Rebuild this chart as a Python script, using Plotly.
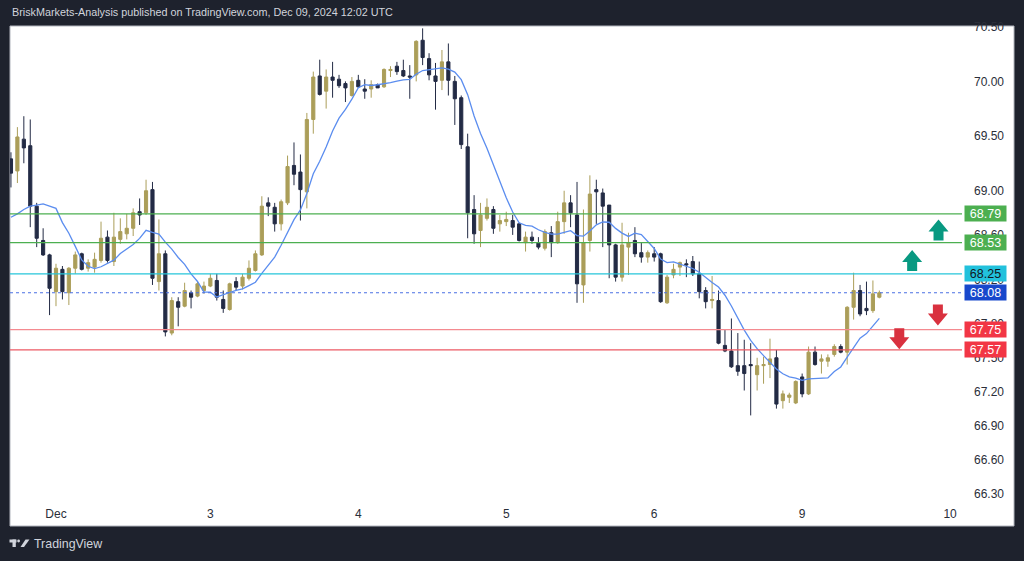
import numpy as np
import pandas as pd
import plotly.graph_objects as go

# ---------------- data (hourly WTI candles) ----------------
opens = [69.29, 69.18, 69.47, 69.41, 68.86, 68.55, 68.42, 68.09, 68.29, 68.08,
         68.30, 68.43, 68.30, 68.31, 68.37, 68.58, 68.36, 68.56, 68.61, 68.66,
         68.81, 68.80, 69.01, 68.18, 68.43, 67.72, 68.00, 67.96, 68.08, 68.05,
         68.10, 68.14, 68.19, 68.02, 67.93, 68.18, 68.14, 68.21, 68.28, 68.42,
         68.89, 68.85, 68.70, 68.89, 69.23, 69.17, 68.99, 69.65, 70.05, 69.91,
         70.04, 70.02, 69.98, 69.87, 70.01, 69.93, 69.93, 69.97, 69.95, 70.10,
         70.14, 70.10, 70.05, 70.06, 70.38, 70.21, 70.05, 70.01, 70.18, 70.00,
         69.85, 69.40, 68.83, 68.64, 68.75, 68.83, 68.70, 68.72, 68.73, 68.70,
         68.53, 68.58, 68.53, 68.48, 68.62, 68.53, 68.72, 68.89, 68.78, 68.15,
         68.55, 69.01, 68.98, 68.87, 68.51, 68.22, 68.49, 68.55, 68.44, 68.40,
         68.43, 68.43, 67.99, 68.24, 68.31, 68.34, 68.36, 68.25, 68.10, 68.01,
         68.01, 67.61, 67.56, 67.43, 67.43, 67.44, 67.35, 67.43, 67.44, 67.50,
         67.12, 67.15, 67.10, 67.33, 67.18, 67.55, 67.47, 67.47, 67.53, 67.60,
         67.55, 67.95, 68.10, 67.94, 67.92, 68.04]
highs = [69.35, 69.58, 69.68, 69.65, 68.89, 68.66, 68.43, 68.34, 68.32, 68.31,
         68.45, 68.44, 68.38, 68.44, 68.72, 68.64, 68.80, 68.75, 68.79, 68.84,
         68.93, 69.10, 69.08, 68.74, 68.46, 68.04, 68.04, 68.17, 68.10, 68.18,
         68.18, 68.25, 68.25, 68.10, 68.17, 68.22, 68.25, 68.37, 68.46, 68.95,
         68.94, 68.89, 68.92, 69.32, 69.44, 69.33, 69.71, 70.09, 70.20, 70.11,
         70.18, 70.06, 70.00, 70.04, 70.06, 70.02, 70.01, 69.98, 70.12, 70.14,
         70.18, 70.20, 70.15, 70.38, 70.49, 70.26, 70.17, 70.29, 70.35, 70.05,
         69.87, 69.52, 68.96, 68.89, 68.93, 68.86, 68.78, 68.81, 68.78, 68.71,
         68.63, 68.63, 68.58, 68.65, 68.68, 68.81, 69.00, 68.96, 69.08, 68.83,
         69.14, 69.10, 69.02, 68.87, 68.52, 68.71, 68.62, 68.67, 68.53, 68.46,
         68.49, 68.44, 68.24, 68.34, 68.36, 68.38, 68.41, 68.36, 68.13, 68.23,
         68.10, 67.75, 67.85, 67.72, 67.66, 67.63, 67.50, 67.51, 67.67, 67.57,
         67.21, 67.19, 67.30, 67.36, 67.60, 67.60, 67.53, 67.53, 67.62, 67.62,
         67.96, 68.26, 68.15, 68.18, 68.19, 68.10]
lows = [69.03, 69.07, 69.25, 68.67, 68.49, 68.41, 67.88, 67.96, 68.02, 67.97,
        68.25, 68.28, 68.27, 68.26, 68.35, 68.35, 68.32, 68.52, 68.56, 68.59,
        68.69, 68.78, 68.15, 68.10, 67.69, 67.70, 67.78, 67.95, 67.94, 68.04,
        68.07, 68.13, 68.01, 67.90, 67.92, 68.10, 68.11, 68.19, 68.27, 68.41,
        68.77, 68.63, 68.64, 68.87, 69.05, 68.73, 68.84, 69.52, 69.87, 69.75,
        69.85, 69.94, 69.81, 69.86, 69.94, 69.84, 69.85, 69.94, 69.94, 70.04,
        70.06, 70.04, 69.84, 70.00, 70.15, 70.01, 69.74, 69.92, 69.87, 69.60,
        69.38, 68.57, 68.52, 68.49, 68.73, 68.61, 68.63, 68.68, 68.60, 68.54,
        68.45, 68.52, 68.47, 68.46, 68.40, 68.52, 68.61, 68.67, 67.99, 67.99,
        68.45, 68.70, 68.49, 68.21, 68.18, 68.18, 68.24, 68.40, 68.35, 68.35,
        68.36, 67.99, 67.98, 68.21, 68.23, 68.22, 68.23, 68.03, 67.94, 67.94,
        67.62, 67.55, 67.41, 67.34, 67.21, 66.99, 67.21, 67.27, 67.32, 67.05,
        67.05, 67.10, 67.09, 67.15, 67.17, 67.43, 67.36, 67.42, 67.51, 67.54,
        67.44, 67.84, 67.87, 67.88, 67.90, 68.03]
closes = [69.16, 69.49, 69.39, 68.86, 68.57, 68.42, 68.12, 68.30, 68.09, 68.30,
          68.42, 68.29, 68.35, 68.38, 68.57, 68.37, 68.58, 68.63, 68.66, 68.80,
          68.78, 69.00, 68.21, 68.43, 67.73, 68.01, 67.95, 68.10, 68.04, 68.16,
          68.14, 68.21, 68.04, 67.94, 68.16, 68.13, 68.22, 68.30, 68.43, 68.86,
          68.86, 68.70, 68.90, 69.22, 69.15, 69.01, 69.65, 70.04, 69.88, 70.04,
          70.01, 69.96, 69.94, 70.00, 69.95, 69.91, 69.97, 69.94, 70.11, 70.11,
          70.09, 70.05, 70.04, 70.37, 70.22, 70.06, 70.00, 70.18, 70.01, 69.84,
          69.42, 68.80, 68.61, 68.78, 68.85, 68.66, 68.73, 68.74, 68.67, 68.55,
          68.58, 68.55, 68.49, 68.63, 68.53, 68.72, 68.89, 68.80, 68.16, 68.53,
          68.97, 68.99, 68.86, 68.51, 68.22, 68.51, 68.53, 68.43, 68.40, 68.44,
          68.40, 68.00, 68.22, 68.29, 68.35, 68.33, 68.25, 68.09, 68.00, 68.02,
          67.63, 67.56, 67.42, 67.38, 67.36, 67.43, 67.43, 67.44, 67.49, 67.09,
          67.18, 67.17, 67.29, 67.18, 67.55, 67.44, 67.49, 67.50, 67.60, 67.55,
          67.95, 68.10, 67.89, 67.92, 68.07, 68.08]

# moving-average values before enough candles are on screen
ma_head = [68.76, 68.79, 68.83, 68.86, 68.87, 68.88, 68.86, 68.84]
ma_period = 9

day_labels = ["Dec", "3", "4", "5", "6", "9", "10"]
day_start_index = [7, 31, 54, 77, 100, 123, 146]

price_ticks = [70.50, 70.00, 69.50, 69.00, 68.60, 68.20, 67.80, 67.50,
               67.20, 66.90, 66.60, 66.30]

level_prices = [68.79, 68.53, 68.25, 67.75, 67.57]
last_price = 68.08

arrow_index = [144.2, 140.1, 144.1, 138.1]
arrow_price = [68.644, 68.369, 67.882, 67.670]
arrow_dir = ["up", "up", "down", "down"]

# ---------------- styles ----------------
BG = "#1e222d"
UP = "#ab9e59"
DN = "#232b45"
level_colors = ["#4caf50", "#4caf50", "#26c6da", "#f48a90", "#ec5a64"]
badge_bg = ["#4caf50", "#4caf50", "#22c1dc", "#f23645", "#f23645"]
badge_fg = ["#ffffff", "#ffffff", "#131722", "#ffffff", "#ffffff"]

W, H = 1024, 561
ML, MR, MT, MB = 10, 62, 26, 56
PW, PH = W - ML - MR, H - MT - MB


def px_x(px):
    return (px - ML) / PW


def px_y(py):
    return (H - MB - py) / PH


n = len(closes)
xs = list(range(n))
ma_tail = pd.Series(closes).rolling(ma_period).mean().iloc[len(ma_head):].tolist()
ma = ma_head + ma_tail

fig = go.Figure()
fig.add_trace(go.Candlestick(
    x=xs, open=opens, high=highs, low=lows, close=closes,
    increasing=dict(line=dict(color=UP, width=1), fillcolor=UP),
    decreasing=dict(line=dict(color=DN, width=1), fillcolor=DN),
    whiskerwidth=0, hoverinfo="skip", showlegend=False,
))
fig.add_trace(go.Scatter(
    x=xs, y=ma, mode="lines", line=dict(color="#5b8def", width=1.3),
    hoverinfo="skip", showlegend=False,
))

shapes = []
# white chart canvas incl. price and time scales
shapes.append(dict(type="rect", xref="paper", yref="paper", layer="below",
                   x0=px_x(10), x1=px_x(1014), y0=px_y(526), y1=px_y(26),
                   fillcolor="#ffffff", line=dict(color="#b2b5be", width=1)))
for p, c in zip(level_prices, level_colors):
    shapes.append(dict(type="line", xref="paper", x0=0, x1=1, yref="y", y0=p, y1=p,
                       line=dict(color=c, width=1.2)))
shapes.append(dict(type="line", xref="paper", x0=0, x1=1, yref="y",
                   y0=last_price, y1=last_price,
                   line=dict(color="#4a6fe3", width=1, dash="dot")))

up_path = "M 0,10.5 L 10,-1.5 L 5,-1.5 L 5,-10.5 L -5,-10.5 L -5,-1.5 L -10,-1.5 Z"
dn_path = "M 0,-10.5 L 10,1.5 L 5,1.5 L 5,10.5 L -5,10.5 L -5,1.5 L -10,1.5 Z"
for ai, ap, ad in zip(arrow_index, arrow_price, arrow_dir):
    shapes.append(dict(type="path", xref="x", yref="y", xsizemode="pixel",
                       ysizemode="pixel", xanchor=ai, yanchor=ap,
                       path=up_path if ad == "up" else dn_path,
                       fillcolor="#089981" if ad == "up" else "#d9313f",
                       line=dict(width=0)))

# TradingView logo glyph
LOGO = "#d1d4dc"
shapes += [
    dict(type="rect", xref="paper", yref="paper", x0=px_x(9.5), x1=px_x(16.5),
         y0=px_y(542.5), y1=px_y(539.5), fillcolor=LOGO, line=dict(width=0)),
    dict(type="rect", xref="paper", yref="paper", x0=px_x(12.5), x1=px_x(15.8),
         y0=px_y(547), y1=px_y(539.5), fillcolor=LOGO, line=dict(width=0)),
    dict(type="circle", xref="paper", yref="paper", x0=px_x(17.2), x1=px_x(20.0),
         y0=px_y(542.4), y1=px_y(539.6), fillcolor=LOGO, line=dict(width=0)),
    dict(type="path", xref="paper", yref="paper",
         path="M {:.5f},{:.5f} L {:.5f},{:.5f} L {:.5f},{:.5f} L {:.5f},{:.5f} Z".format(
             px_x(25.5), px_y(539.5), px_x(29.5), px_y(539.5),
             px_x(24.0), px_y(547), px_x(20.5), px_y(547)),
         fillcolor=LOGO, line=dict(width=0)),
]

annotations = []
for p, bg, fg in zip(level_prices + [last_price], badge_bg + ["#1848cc"],
                     badge_fg + ["#ffffff"]):
    annotations.append(dict(xref="paper", x=px_x(985.5), xanchor="center",
                            yref="y", y=np.log10(p), yanchor="middle",
                            text=f"{p:.2f}", showarrow=False, bgcolor=bg,
                            width=41, height=15, borderpad=0, align="center",
                            font=dict(color=fg, size=12.5, family="Liberation Sans")))
annotations.append(dict(xref="paper", yref="paper", x=px_x(10), y=px_y(12),
                        xanchor="left", yanchor="middle", showarrow=False,
                        text="BriskMarkets-Analysis published on TradingView.com, Dec 09, 2024 12:02 UTC",
                        font=dict(color="#d1d4dc", size=10.8, family="Liberation Sans")))
annotations.append(dict(xref="paper", yref="paper", x=px_x(32), y=px_y(544),
                        xanchor="left", yanchor="middle", showarrow=False,
                        text="TradingView",
                        font=dict(color="#d1d4dc", size=12.4, family="Liberation Sans")))

y_top, y_bot = 70.512, 66.205
fig.update_layout(
    width=W, height=H, margin=dict(l=ML, r=MR, t=MT, b=MB),
    paper_bgcolor=BG, plot_bgcolor="#ffffff",
    shapes=shapes, annotations=annotations, showlegend=False,
    xaxis=dict(range=[-0.15, 147.85], tickvals=day_start_index, ticktext=day_labels,
               showgrid=False, zeroline=False, showline=False, ticks="",
               rangeslider=dict(visible=False), fixedrange=True,
               tickfont=dict(size=12, color="#2a2e39", family="Liberation Sans")),
    yaxis=dict(type="log", side="right", range=[np.log10(y_bot), np.log10(y_top)],
               tickvals=price_ticks, ticktext=[f"{v:.2f}" for v in price_ticks],
               showgrid=False, zeroline=False, showline=False, ticks="",
               ticklabelstandoff=11, fixedrange=True,
               tickfont=dict(size=12, color="#2a2e39", family="Liberation Sans")),
)

fig.write_html("out.html")
